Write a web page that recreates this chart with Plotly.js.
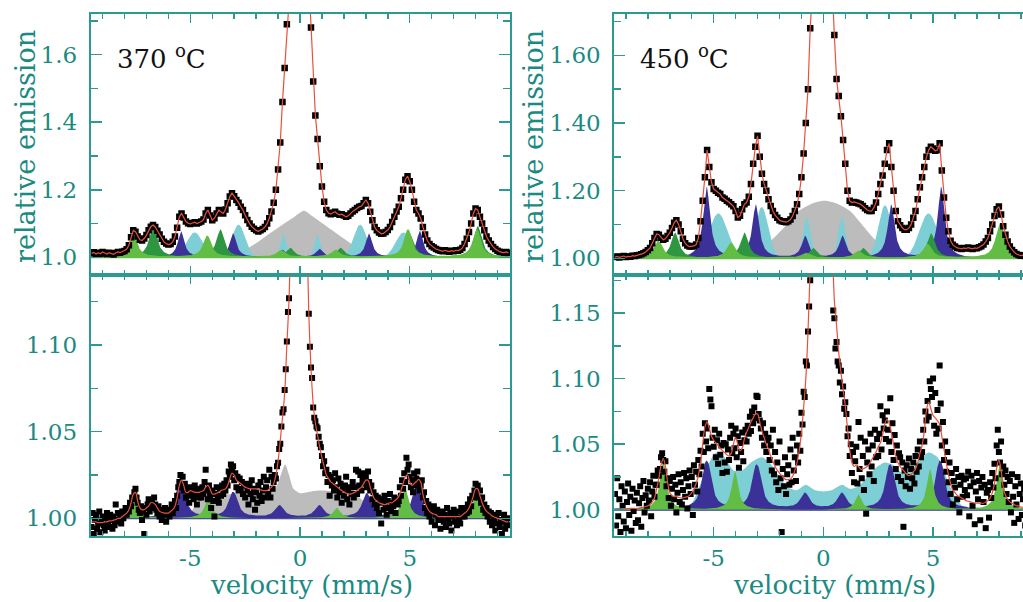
<!DOCTYPE html>
<html><head><meta charset="utf-8">
<script src="https://cdn.plot.ly/plotly-3.0.1.min.js"></script>
<style>html,body{margin:0;padding:0;overflow:hidden;background:#fff}#chart{width:1023px;height:602px}</style>
</head><body><div id="chart"></div>
<script>
// ---------------- data ----------------
// velocity channels: -9.5 ... 9.5 mm/s
const tl370Data = [
1.012,1.015,1.010,1.014,1.011,1.016,1.013,1.010,1.014,1.012,
1.009,1.013,1.016,1.014,1.017,1.019,1.024,1.036,1.060,1.080,
1.076,1.062,1.052,1.050,1.056,1.066,1.080,1.091,1.096,1.090,
1.079,1.068,1.055,1.046,1.041,1.038,1.040,1.046,1.062,1.088,
1.120,1.130,1.118,1.106,1.101,1.099,1.102,1.104,1.100,1.103,
1.106,1.112,1.130,1.140,1.124,1.110,1.116,1.130,1.140,1.134,
1.130,1.142,1.160,1.180,1.190,1.181,1.170,1.162,1.150,1.140,
1.125,1.111,1.100,1.091,1.085,1.080,1.077,1.080,1.084,1.090,
1.100,1.116,1.136,1.162,1.200,1.260,1.340,1.460,1.560,1.690,
1.850,2.000,2.120,2.200,2.250,2.250,2.200,2.100,1.970,1.820,
1.680,1.520,1.420,1.350,1.270,1.210,1.165,1.140,1.131,1.128,
1.132,1.135,1.129,1.126,1.128,1.124,1.120,1.123,1.130,1.136,
1.140,1.146,1.150,1.152,1.160,1.170,1.160,1.135,1.110,1.090,
1.080,1.074,1.070,1.071,1.075,1.081,1.090,1.105,1.120,1.136,
1.150,1.175,1.200,1.230,1.240,1.225,1.200,1.165,1.140,1.130,
1.115,1.090,1.068,1.050,1.040,1.033,1.029,1.025,1.022,1.020,
1.018,1.021,1.019,1.017,1.020,1.018,1.021,1.020,1.023,1.028,
1.040,1.055,1.075,1.100,1.130,1.145,1.140,1.120,1.100,1.080,
1.062,1.050,1.040,1.031,1.025,1.020,1.017,1.015,1.014,1.016,
1.013];
const tr450Data = [
1.004,1.006,1.003,1.005,1.007,1.004,1.006,1.005,1.008,1.007,
1.009,1.010,1.012,1.015,1.019,1.024,1.031,1.045,1.060,1.072,
1.070,1.061,1.055,1.058,1.066,1.076,1.090,1.105,1.113,1.100,
1.080,1.058,1.045,1.038,1.035,1.035,1.037,1.041,1.060,1.110,
1.170,1.240,1.320,1.270,1.225,1.205,1.200,1.194,1.190,1.180,
1.176,1.170,1.166,1.160,1.154,1.140,1.121,1.126,1.145,1.160,
1.165,1.182,1.220,1.280,1.330,1.362,1.300,1.250,1.220,1.200,
1.175,1.155,1.140,1.128,1.120,1.113,1.110,1.108,1.107,1.110,
1.115,1.125,1.140,1.160,1.190,1.240,1.310,1.400,1.500,1.680,
1.850,2.000,2.120,2.200,2.240,2.240,2.200,2.100,1.950,1.780,
1.660,1.530,1.480,1.420,1.350,1.280,1.200,1.170,1.165,1.167,
1.165,1.162,1.160,1.155,1.148,1.143,1.140,1.140,1.150,1.165,
1.190,1.220,1.245,1.280,1.320,1.340,1.270,1.200,1.140,1.110,
1.098,1.090,1.085,1.085,1.090,1.100,1.120,1.140,1.175,1.210,
1.240,1.270,1.300,1.320,1.330,1.325,1.318,1.320,1.340,1.260,
1.180,1.120,1.080,1.052,1.040,1.035,1.031,1.030,1.028,1.031,
1.029,1.032,1.030,1.028,1.031,1.030,1.033,1.036,1.041,1.050,
1.060,1.080,1.100,1.125,1.145,1.153,1.130,1.095,1.070,1.050,
1.035,1.025,1.018,1.013,1.010,1.008,1.009,1.007,1.008,1.006,
1.007];
// bottom panels: channels every 0.05 mm/s
const bl370Data = [
0.995,1.003,0.991,0.999,1.002,0.994,0.997,1.004,0.992,0.998,1.001,0.996,0.993,1.000,1.003,0.997,0.995,1.002,0.999,0.994,
1.001,0.996,1.008,0.998,1.003,0.999,1.002,0.997,1.004,1.000,1.003,1.006,1.002,1.005,1.004,1.009,1.007,1.012,1.011,1.015,
1.017,1.012,1.009,1.005,1.003,1.007,0.999,1.004,0.991,1.006,1.002,1.008,1.011,1.004,1.007,1.010,1.006,1.012,1.008,1.005,
1.003,1.007,1.001,1.005,0.999,1.004,1.002,1.006,0.998,1.003,1.005,1.001,1.004,1.008,1.003,1.007,1.010,1.006,1.013,1.018,
1.021,1.025,1.019,1.024,1.016,1.020,1.012,1.017,1.014,1.009,1.018,1.013,1.016,1.011,1.019,1.014,1.008,1.017,1.012,1.015,
1.012,1.018,1.014,1.021,1.028,1.016,1.011,1.019,1.013,1.006,1.016,1.010,1.001,1.014,1.018,1.012,1.009,1.017,1.013,1.019,
1.014,1.020,1.016,1.022,1.019,1.027,1.024,1.031,1.028,1.030,1.022,1.026,1.018,1.024,1.016,1.023,1.017,1.021,1.014,1.019,
1.012,1.020,1.016,1.008,1.019,1.014,1.022,1.011,1.017,1.005,1.015,1.009,1.019,1.013,1.021,1.010,1.016,1.024,1.012,1.018,
1.022,1.014,1.028,1.012,1.024,1.017,1.021,1.025,1.023,1.030,1.032,1.040,1.043,1.053,1.061,1.063,1.074,1.086,1.102,1.119,
1.127,1.150,1.180,1.210,1.240,1.262,1.280,1.292,1.300,1.302,1.300,1.292,1.278,1.260,1.235,1.205,1.175,1.148,1.118,1.099,
1.087,1.081,1.064,1.058,1.056,1.053,1.052,1.047,1.043,1.041,1.036,1.030,1.033,1.026,1.028,1.021,1.025,1.013,1.024,1.019,
1.022,1.016,1.026,1.018,1.012,1.023,1.015,1.020,1.009,1.017,1.013,1.019,1.024,1.011,1.016,1.008,1.018,1.014,1.021,1.012,
1.018,1.028,1.014,1.027,1.019,1.025,1.016,1.022,1.026,1.020,1.024,1.018,1.027,1.021,1.016,1.019,1.011,1.015,1.008,1.013,
1.006,1.012,1.003,1.009,0.997,1.011,1.005,1.013,1.008,1.002,1.010,1.006,1.014,1.004,1.009,1.007,1.012,1.003,1.011,1.008,
1.010,1.018,1.013,1.022,1.017,1.026,1.021,1.035,1.028,1.031,1.024,1.018,1.022,1.015,1.026,1.019,1.023,1.027,1.021,1.016,
1.019,1.022,1.012,1.015,1.006,1.010,1.003,1.008,1.001,1.006,0.998,1.004,1.007,0.996,1.002,1.005,0.999,1.003,0.994,1.001,
1.004,0.998,1.002,0.995,1.006,1.000,0.997,1.003,0.993,1.001,1.005,0.998,1.002,0.996,1.004,1.000,0.997,1.006,1.001,1.003,
1.001,1.006,1.003,1.008,1.004,1.011,1.007,1.013,1.012,1.016,1.020,1.015,1.019,1.012,1.016,1.009,1.012,1.005,1.008,1.003,
1.006,1.001,1.004,0.998,1.003,0.996,1.002,0.999,0.993,1.001,0.997,1.003,0.995,0.999,0.991,0.998,1.002,0.994,0.997,1.000,
0.996];
const br450Data = [
1.012,0.988,1.024,0.995,1.008,0.983,1.018,1.003,0.991,1.014,0.986,1.006,1.020,0.996,1.010,0.984,1.016,0.999,1.007,0.990,
1.013,0.992,1.005,1.018,0.987,1.009,1.022,0.998,1.011,1.003,1.016,1.007,1.021,0.995,1.014,1.026,1.010,1.019,1.019,1.030,
1.026,1.031,1.040,1.043,1.038,1.029,1.037,1.018,1.024,1.009,1.022,1.003,1.016,1.025,1.008,1.019,0.998,1.013,1.027,1.006,
1.021,1.004,1.015,1.028,1.010,1.024,1.001,1.018,1.030,1.012,1.025,0.996,1.034,1.019,1.029,1.014,1.038,1.027,1.045,1.033,
1.058,1.044,1.066,1.052,1.062,1.047,1.092,1.084,1.079,1.055,1.048,1.061,1.040,1.053,1.035,1.058,1.042,1.049,1.028,1.051,
1.036,1.050,1.029,1.046,1.038,1.055,1.064,1.043,1.058,1.047,1.062,1.040,1.056,1.032,1.051,1.044,1.059,1.037,1.053,1.061,
1.052,1.064,1.058,1.071,1.060,1.075,1.066,1.078,1.070,1.087,1.086,1.073,1.068,1.062,1.055,1.066,1.049,1.058,1.044,1.053,
1.055,1.038,1.049,1.030,1.061,1.027,1.044,1.021,1.036,1.015,1.052,1.024,0.983,1.031,1.018,1.040,1.012,1.027,1.034,1.019,
1.046,1.021,1.055,1.030,1.040,1.022,1.049,1.036,1.058,1.045,1.074,1.065,1.090,1.086,1.113,1.110,1.136,1.155,1.175,1.200,
1.235,1.258,1.282,1.302,1.318,1.332,1.342,1.347,1.350,1.350,1.348,1.343,1.336,1.325,1.312,1.295,1.272,1.243,1.212,1.152,
1.146,1.123,1.128,1.113,1.110,1.097,1.106,1.088,1.094,1.077,1.082,1.073,1.056,1.062,1.041,1.050,1.028,1.044,1.021,1.037,
1.048,1.020,1.067,1.031,1.055,1.024,1.041,1.015,1.052,0.997,1.036,1.046,1.027,1.058,1.033,1.049,1.022,1.061,1.040,1.054,
1.041,1.058,1.079,1.046,1.072,1.062,1.068,1.054,1.075,1.061,1.052,1.085,1.044,1.066,1.038,1.057,1.031,1.049,1.025,1.043,
1.040,1.022,1.036,0.987,1.030,1.018,1.034,1.025,1.039,1.016,1.031,1.024,1.036,1.020,1.041,1.029,1.046,1.033,1.052,1.040,
1.044,1.061,1.052,1.075,1.068,1.083,1.071,1.098,1.092,1.086,1.100,1.064,1.089,1.058,1.076,1.062,1.110,1.081,1.049,1.067,
1.038,1.052,1.029,1.044,1.021,1.036,1.012,1.028,1.004,1.022,1.017,1.031,1.008,1.025,0.998,1.019,1.026,1.010,1.023,1.015,
1.024,1.011,1.029,0.995,1.018,1.026,1.003,1.021,0.989,1.014,1.028,1.008,1.022,0.992,1.017,1.025,1.006,1.019,0.986,1.013,
1.015,0.994,1.021,1.009,1.028,1.017,1.035,1.024,1.049,1.061,1.044,1.036,1.052,1.027,1.033,1.019,1.030,1.012,1.025,1.006,
1.022,0.998,1.027,1.010,0.990,1.018,1.004,1.025,0.993,1.012,1.020,0.996,1.008,1.016,0.988,1.011,1.003,1.019,0.995,1.007,
1.010];
// fitted curves of the bottom panels, every 0.1 mm/s
const bl370Fit = [
0.998,0.998,0.998,0.9975,0.9975,0.9975,0.998,0.998,0.9985,0.9985,
0.999,0.9993,1.000,1.000,1.001,1.002,1.003,1.005,1.009,1.014,
1.015,1.010,1.006,1.005,1.005,1.006,1.007,1.009,1.009,1.008,
1.006,1.004,1.0035,1.003,1.003,1.003,1.004,1.005,1.007,1.012,
1.019,1.022,1.019,1.015,1.015,1.016,1.0155,1.015,1.015,1.015,
1.0155,1.016,1.018,1.019,1.017,1.014,1.014,1.0145,1.015,1.016,
1.0165,1.017,1.019,1.023,1.026,1.025,1.022,1.021,1.020,1.019,
1.018,1.0175,1.017,1.017,1.017,1.017,1.0165,1.0165,1.016,1.016,
1.016,1.017,1.018,1.020,1.025,1.033,1.045,1.058,1.072,1.100,
1.127,1.180,1.240,1.280,1.300,1.300,1.278,1.235,1.175,1.118,
1.087,1.066,1.055,1.048,1.041,1.035,1.030,1.025,1.023,1.021,
1.020,1.019,1.018,1.017,1.016,1.015,1.0145,1.014,1.014,1.0145,
1.015,1.016,1.017,1.018,1.020,1.022,1.022,1.018,1.014,1.011,
1.010,1.009,1.0085,1.008,1.008,1.0085,1.009,1.009,1.010,1.011,
1.0125,1.016,1.020,1.024,1.025,1.021,1.019,1.020,1.021,1.0225,
1.021,1.014,1.009,1.006,1.004,1.003,1.0025,1.002,1.001,1.001,
1.001,1.001,1.001,1.001,1.001,1.001,1.001,1.001,1.001,1.002,
1.003,1.004,1.006,1.009,1.013,1.017,1.017,1.013,1.009,1.006,
1.004,1.003,1.002,1.001,1.0005,1.000,0.9995,0.999,0.9985,0.998,
0.998];
const br450Fit = [
1.0005,1.0005,1.0006,1.0007,1.0008,1.0008,1.0009,1.001,1.001,1.001,
1.001,1.0013,1.0016,1.002,1.0025,1.003,1.004,1.006,1.009,1.016,
1.024,1.034,1.039,1.033,1.021,1.013,1.011,1.010,1.010,1.0095,
1.009,1.009,1.0095,1.010,1.011,1.013,1.016,1.020,1.026,1.036,
1.050,1.063,1.067,1.062,1.056,1.053,1.051,1.049,1.047,1.045,
1.0436,1.042,1.041,1.043,1.050,1.055,1.050,1.045,1.047,1.054,
1.059,1.063,1.067,1.070,1.073,1.073,1.067,1.060,1.055,1.050,
1.046,1.041,1.037,1.033,1.030,1.028,1.026,1.024,1.023,1.023,
1.0235,1.0256,1.030,1.036,1.045,1.059,1.078,1.100,1.136,1.185,
1.235,1.280,1.318,1.342,1.350,1.348,1.336,1.312,1.272,1.212,
1.160,1.141,1.120,1.105,1.092,1.079,1.062,1.046,1.036,1.033,
1.034,1.033,1.031,1.031,1.032,1.033,1.035,1.038,1.041,1.044,
1.048,1.051,1.057,1.065,1.069,1.066,1.059,1.050,1.041,1.036,
1.033,1.031,1.029,1.027,1.026,1.027,1.029,1.031,1.036,1.043,
1.049,1.060,1.076,1.082,1.077,1.072,1.070,1.068,1.065,1.056,
1.046,1.036,1.027,1.020,1.015,1.013,1.011,1.010,1.009,1.008,
1.007,1.0065,1.006,1.0055,1.005,1.005,1.005,1.005,1.005,1.006,
1.007,1.009,1.013,1.020,1.032,1.038,1.030,1.017,1.011,1.008,
1.006,1.005,1.004,1.003,1.003,1.002,1.002,1.002,1.002,1.002,
1.002];

// sub-spectra: [line position (mm/s), height above 1]
const tlLightGreen = [[-7.60,0.066],[-4.23,0.062],[-0.88,0.020],[1.62,0.020],[4.92,0.080],[8.06,0.080]];
const tlDarkGreen  = [[-6.69,0.092],[-3.63,0.082],[-0.45,0.028],[1.84,0.028],[5.00,0.070],[8.10,0.092]];
const tlNavy       = [[-5.42,0.076],[-3.05,0.070],[-0.80,0.022],[0.88,0.025],[3.14,0.070],[5.46,0.078]];
const tlCyan       = [[-4.80,0.074,0.36],[-2.80,0.097,0.30],[-0.76,0.068,0.14],[0.80,0.066,0.14],[2.74,0.097,0.30],[4.72,0.074,0.36]];
const tlGray       = [[-3.0,1.0],[-2.1,1.038],[-1.0,1.088],[-0.3,1.118],[0.18,1.138],[0.6,1.12],[1.3,1.088],[2.3,1.042],[3.2,1.0]];

const trLightGreen = [[-7.52,0.049],[-4.21,0.044],[-0.80,0.014],[1.60,0.020],[4.75,0.040],[8.06,0.100]];
const trDarkGreen  = [[-6.76,0.076],[-3.60,0.076],[-0.46,0.030],[1.82,0.030],[4.91,0.074],[8.00,0.075]];
const trNavy       = [[-5.32,0.210],[-3.08,0.157],[-0.83,0.064],[0.87,0.064],[3.09,0.157],[5.37,0.210]];
const trCyan       = [[-4.79,0.133,0.42],[-2.81,0.152,0.30],[-0.76,0.123,0.17],[0.84,0.123,0.17],[2.81,0.157,0.30],[4.79,0.133,0.42]];
const trGray       = [[-3.6,1.0],[-2.9,1.025],[-2.3,1.058],[-1.77,1.093],[-1.16,1.138],[-0.5,1.162],[0.05,1.17],[0.6,1.162],[1.25,1.138],[1.85,1.093],[2.36,1.055],[3.0,1.022],[3.6,1.0]];

const blLightGreen = [[-7.55,0.0144],[-4.18,0.0115],[1.67,0.006],[4.79,0.017],[8.05,0.0144]];
const blNavy       = [[-5.45,0.022],[-3.05,0.0144],[-0.94,0.0067],[0.88,0.0067],[3.04,0.0135],[5.32,0.018]];
const blGray       = [[-5.1,1.0],[-4.8,1.007],[-4.4,1.0125],[-3.6,1.0135],[-2.6,1.0145],[-1.6,1.015],[-1.1,1.018],[-0.85,1.026],[-0.68,1.031],[-0.5,1.025],[-0.3,1.017],[0.0,1.0145],[0.5,1.0155],[1.0,1.016],[1.6,1.0155],[2.2,1.0145],[2.7,1.012],[3.1,1.007],[3.4,1.002],[3.6,1.0]];

const brLightGreen = [[-7.30,0.038],[-4.03,0.029],[1.60,0.0115],[4.86,0.031],[8.05,0.036]];
const brNavy       = [[-5.32,0.036],[-3.04,0.033],[-0.84,0.0115],[0.84,0.0115],[3.04,0.033],[5.32,0.036]];
const brCyan       = [[-6.5,1.0],[-6.0,1.005],[-5.6,1.02],[-5.2,1.036],[-4.9,1.0436],[-4.5,1.04],[-4.1,1.03],[-3.7,1.03],[-3.3,1.036],[-2.8,1.04],[-2.4,1.035],[-2.0,1.025],[-1.6,1.017],[-1.2,1.015],[-0.8,1.019],[-0.4,1.015],[0.0,1.014],[0.4,1.015],[0.85,1.019],[1.2,1.016],[1.6,1.018],[2.0,1.025],[2.4,1.032],[2.8,1.036],[3.2,1.034],[3.6,1.028],[4.0,1.03],[4.4,1.038],[4.8,1.0436],[5.2,1.04],[5.6,1.025],[6.0,1.01],[6.4,1.002],[6.8,1.0]];

const xTickVals = [-5, 0, 5];
const xTickText = ['-5', '0', '5'];

// ---------------- styling ----------------
const W = 1023, H = 602;
const FONT = 'DejaVu Serif';
const TEAL_LINE = '#2a9a92', TEAL_TEXT = '#1a8a82';
const C_LGREEN = '#62bd45', C_DGREEN = '#2e9640', C_NAVY = '#3b3199', C_CYAN = '#7dcfd5', C_GRAY = '#bcbcbc', C_RED = '#e8503c';

function channels(step, count) { const a = []; for (let i = 0; i < count; i++) a.push(+(-9.5 + i * step).toFixed(3)); return a; }
const vel01 = channels(0.1, 191), vel005 = channels(0.05, 381);
const compX = []; for (let i = 0; i <= 960; i++) compX.push(+(-9.6 + i * 0.02).toFixed(3));

function lorentz(peaks, w) { return compX.map(v => peaks.reduce((s, p) => s + p[1] / (1 + ((v - p[0]) / w) ** 2), 0)); }
function gauss(peaks) { return compX.map(v => peaks.reduce((s, p) => s + p[1] * Math.exp(-0.5 * ((v - p[0]) / p[2]) ** 2), 0)); }

function area(ax, curve, color, lw) {
  return { type: 'scatter', mode: 'lines', xaxis: ax[0], yaxis: ax[1],
    x: compX.concat([compX[compX.length - 1], compX[0]]), y: curve.map(c => 1 + c).concat([1, 1]),
    fill: 'toself', fillcolor: color, line: { color: color, width: lw || 0 }, hoverinfo: 'skip', showlegend: false };
}
function profile(ax, pts, color) {
  return [
    { type: 'scatter', mode: 'lines', xaxis: ax[0], yaxis: ax[1], x: [pts[0][0], pts[pts.length - 1][0]], y: [1, 1], line: { width: 0, color: color }, hoverinfo: 'skip', showlegend: false },
    { type: 'scatter', mode: 'lines', xaxis: ax[0], yaxis: ax[1], x: pts.map(p => p[0]), y: pts.map(p => p[1]), fill: 'tonexty', fillcolor: color, line: { width: 0, color: color, shape: 'spline', smoothing: 0.7 }, hoverinfo: 'skip', showlegend: false }
  ];
}
function points(ax, xs, ys, size) {
  return { type: 'scatter', mode: 'markers', xaxis: ax[0], yaxis: ax[1], x: xs, y: ys, marker: { symbol: 'square', size: size, color: '#000' }, hoverinfo: 'skip', showlegend: false };
}
function fitLine(ax, xs, ys, shape) {
  return { type: 'scatter', mode: 'lines', xaxis: ax[0], yaxis: ax[1], x: xs, y: ys, line: { color: C_RED, width: 1.2, shape: shape }, hoverinfo: 'skip', showlegend: false };
}

const TL = ['x', 'y'], BL = ['x2', 'y2'], TR = ['x3', 'y3'], BR = ['x4', 'y4'];
let traces = [];
traces.push(...profile(TL, tlGray, C_GRAY));
traces.push(area(TL, gauss(tlCyan), C_CYAN));
traces.push(area(TL, lorentz(tlNavy, 0.18), C_NAVY));
traces.push(area(TL, lorentz(tlDarkGreen, 0.22), C_DGREEN));
traces.push(area(TL, lorentz(tlLightGreen, 0.2), C_LGREEN, 1.5));
traces.push(points(TL, vel01, tl370Data, 6.5));
traces.push(fitLine(TL, vel01, tl370Data, 'linear'));

traces.push(...profile(TR, trGray, C_GRAY));
traces.push(area(TR, gauss(trCyan), C_CYAN));
traces.push(area(TR, lorentz(trNavy, 0.19), C_NAVY));
traces.push(area(TR, lorentz(trDarkGreen, 0.22), C_DGREEN));
traces.push(area(TR, lorentz(trLightGreen, 0.22), C_LGREEN, 1.5));
traces.push(points(TR, vel01, tr450Data, 6.5));
traces.push(fitLine(TR, vel01, tr450Data, 'linear'));

traces.push(...profile(BL, blGray, C_GRAY));
traces.push(area(BL, lorentz(blNavy, 0.22), C_NAVY, 2));
traces.push(area(BL, lorentz(blLightGreen, 0.2), C_LGREEN));
traces.push(points(BL, vel005, bl370Data, 6));
traces.push(fitLine(BL, vel01, bl370Fit, 'spline'));

traces.push(...profile(BR, brCyan, C_CYAN));
traces.push(area(BR, lorentz(brNavy, 0.22), C_NAVY, 2));
traces.push(area(BR, lorentz(brLightGreen, 0.18), C_LGREEN));
traces.push(points(BR, vel005, br450Data, 6));
traces.push(fitLine(BR, vel01, br450Fit, 'spline'));

const px = v => v / W, py = v => 1 - v / H;
const tickFont = { family: FONT, size: 23, color: TEAL_TEXT };
function xAxis(domain, range, anchor, labels) {
  return { domain, range, anchor, showline: true, linecolor: TEAL_LINE, linewidth: 2, mirror: 'ticks',
    ticks: 'inside', ticklen: 9, tickwidth: 1.5, tickcolor: TEAL_LINE,
    tickmode: 'array', tickvals: xTickVals, ticktext: xTickText, showticklabels: labels, tickfont: tickFont, ticklabelstandoff: 0,
    minor: { tickmode: 'linear', tick0: 0, dtick: 1, ticks: 'inside', ticklen: 5, tickwidth: 1.5, tickcolor: TEAL_LINE, showgrid: false },
    showgrid: false, zeroline: false, fixedrange: true };
}
function yAxis(domain, range, anchor, dtick, mdtick, fmt, mirror) {
  return { domain, range, anchor, showline: true, linecolor: TEAL_LINE, linewidth: 2, mirror: mirror,
    ticks: 'inside', ticklen: 11, tickwidth: 1.5, tickcolor: TEAL_LINE, tickmode: 'linear', tick0: 1, dtick: dtick, tickformat: fmt,
    tickfont: tickFont, ticklabelstandoff: 7,
    minor: { tickmode: 'linear', tick0: 1, dtick: mdtick, ticks: 'inside', ticklen: 7, tickwidth: 1.5, tickcolor: TEAL_LINE, showgrid: false },
    showgrid: false, zeroline: false, fixedrange: true };
}
const colL = [px(90.7), px(510)], colR = [px(614.3), 1];
const rowT = [py(275), py(14)], rowB = [py(536), py(275)];
const rightEnd = 9.1;
const titleFont = { family: FONT, size: 26, color: TEAL_TEXT };
const ann = (text, x, y, o) => Object.assign({ text, x: px(x), y: py(y), xref: 'paper', yref: 'paper', showarrow: false }, o);

const layout = {
  width: W, height: H, margin: { l: 0, r: 0, t: 0, b: 0 }, paper_bgcolor: '#fff', plot_bgcolor: 'rgba(0,0,0,0)', showlegend: false,
  xaxis: xAxis(colL, [-9.54, 9.57], 'y', false),
  yaxis: yAxis(rowT, [0.948, 1.72], 'x', 0.2, 0.1, '.1f', 'ticks'),
  xaxis2: xAxis(colL, [-9.54, 9.57], 'y2', true),
  yaxis2: yAxis(rowB, [0.9898, 1.1404], 'x2', 0.05, 0.025, '.2f', 'ticks'),
  xaxis3: xAxis(colR, [-9.53, rightEnd], 'y3', false),
  yaxis3: yAxis(rowT, [0.951, 1.722], 'x3', 0.2, 0.1, '.2f', false),
  xaxis4: xAxis(colR, [-9.53, rightEnd], 'y4', true),
  yaxis4: yAxis(rowB, [0.980, 1.179], 'x4', 0.05, 0.025, '.2f', false),
  annotations: [
    ann('370 <sup>o</sup>C', 115, 57, { xanchor: 'left', yanchor: 'middle', font: { family: FONT, size: 26, color: '#111' } }),
    ann('450 <sup>o</sup>C', 638, 57, { xanchor: 'left', yanchor: 'middle', font: { family: FONT, size: 26, color: '#111' } }),
    ann('relative emission', 25, 147, { xanchor: 'center', yanchor: 'middle', textangle: -90, font: { family: FONT, size: 27, color: TEAL_TEXT } }),
    ann('relative emission', 533, 147, { xanchor: 'center', yanchor: 'middle', textangle: -90, font: { family: FONT, size: 27, color: TEAL_TEXT } }),
    ann('velocity (mm/s)', 311, 602, { xanchor: 'center', yanchor: 'bottom', font: titleFont }),
    ann('velocity (mm/s)', 834, 602, { xanchor: 'center', yanchor: 'bottom', font: titleFont })
  ]
};
Plotly.newPlot('chart', traces, layout, { staticPlot: true, displayModeBar: false });
</script></body></html>
